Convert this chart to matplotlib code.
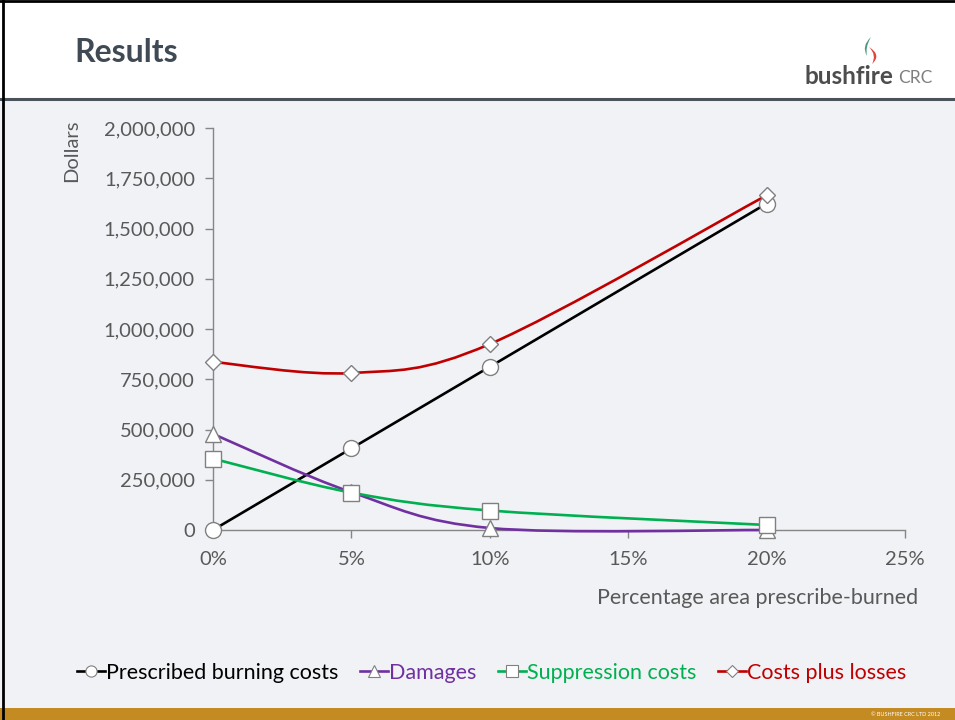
import numpy as np
import matplotlib
matplotlib.use("Agg")
import matplotlib.pyplot as plt
from matplotlib.path import Path
from matplotlib.patches import PathPatch, Rectangle
from matplotlib.lines import Line2D
from matplotlib.ticker import FuncFormatter

plt.rcParams['font.family'] = ['Lato', 'DejaVu Sans']

# data
pct = [0, 5, 10, 20]
burning_costs = [0, 406000, 812000, 1624000]
damages = [478000, 188000, 10000, 0]
suppression = [355000, 186000, 97000, 25000]
costs_plus_losses = [836000, 781000, 925000, 1665000]

series = [
    ("Prescribed burning costs", burning_costs, "#000000", "o", 11.5),
    ("Damages", damages, "#7030a0", "^", 11.5),
    ("Suppression costs", suppression, "#00b050", "s", 11.5),
    ("Costs plus losses", costs_plus_losses, "#c00000", "D", 8.5),
]

bg = "#f0f2f5"
tick_col = "#595959"
axis_col = "#868686"


def smooth_path(xs, ys):
    # Excel-style smoothed line: Catmull-Rom segments as cubic Beziers
    pts = np.column_stack([xs, ys]).astype(float)
    n = len(pts)
    verts = [pts[0]]
    codes = [Path.MOVETO]
    for i in range(n - 1):
        p0 = pts[max(i - 1, 0)]
        p1 = pts[i]
        p2 = pts[i + 1]
        p3 = pts[min(i + 2, n - 1)]
        c1 = p1 + (p2 - p0) / 6.0
        c2 = p2 - (p3 - p1) / 6.0
        verts += [c1, c2, p2]
        codes += [Path.CURVE4] * 3
    return Path(verts, codes)


W, H = 955.0, 720.0


def px_path(pts):
    # pixel coords (top-left origin) -> figure fraction, quadratic curve pieces
    verts = [(x / W, 1 - y / H) for x, y in pts]
    codes = [Path.MOVETO] + [Path.CURVE3] * (len(pts) - 1)
    return Path(verts, codes)


fig = plt.figure(figsize=(9.55, 7.2), dpi=100)
fig.patch.set_facecolor(bg)

# white header + separator
fig.patches.append(Rectangle((0, 1 - 98 / H), 1, 98 / H, transform=fig.transFigure,
                             facecolor="white", edgecolor="none", zorder=0))
fig.add_artist(Line2D([0, 1], [1 - 99 / H, 1 - 99 / H], color="#4a525a", lw=2.2))
fig.add_artist(Line2D([0, 1], [1 - 1 / H, 1 - 1 / H], color="#000000", lw=2))
fig.add_artist(Line2D([3 / W, 3 / W], [0, 1], color="#000000", lw=2))
# gold footer
fig.patches.append(Rectangle((0, 0), 1, 12 / H, transform=fig.transFigure,
                             facecolor="#c38b22", edgecolor="none", zorder=0))
fig.text(940 / W, 6 / H, "\u00a9 BUSHFIRE CRC LTD 2012", color="white", fontsize=4,
         ha="right", va="center")

fig.text(74 / W, 1 - 52 / H, "Results", fontsize=23, fontweight="bold",
         color="#404a55", ha="left", va="center")
fig.text(805 / W, 1 - 76 / H, "bushfire", fontsize=17.5, fontweight="bold",
         color="#4d4d4d", ha="left", va="center")
fig.text(898 / W, 1 - 78 / H, "CRC", fontsize=12.5, color="#7f7f7f",
         ha="left", va="center")
# flame in the logo
flame_g = px_path([(871, 37), (861, 46), (867, 56), (865, 47), (871, 37)])
fig.add_artist(PathPatch(flame_g, facecolor="#4a9a80", edgecolor="none",
                         transform=fig.transFigure))
flame_r = px_path([(869, 47), (882, 55), (872, 64), (877, 55), (869, 47)])
fig.add_artist(PathPatch(flame_r, facecolor="#e0453a", edgecolor="none",
                         transform=fig.transFigure))

ax = fig.add_axes([213 / W, 190 / H, 692 / W, 402 / H])
ax.set_facecolor("none")
ax.set_xlim(0, 25)
ax.set_ylim(0, 2000000)
ax.set_xticks([0, 5, 10, 15, 20, 25])
ax.set_yticks(np.arange(0, 2000001, 250000))
ax.xaxis.set_major_formatter(FuncFormatter(lambda v, p: "%d%%" % v))
ax.yaxis.set_major_formatter(FuncFormatter(lambda v, p: "{:,.0f}".format(v)))
for s in ["top", "right"]:
    ax.spines[s].set_visible(False)
for s in ["left", "bottom"]:
    ax.spines[s].set_color(axis_col)
    ax.spines[s].set_linewidth(1)
ax.tick_params(axis="both", colors=axis_col, labelcolor=tick_col, labelsize=14.5,
               length=6, width=1)
ax.tick_params(axis="y", pad=7)
ax.tick_params(axis="x", pad=9)

handles = []
for label, vals, col, mk, ms in series:
    ax.add_patch(PathPatch(smooth_path(pct, vals), facecolor="none", edgecolor=col,
                           lw=1.9, zorder=3, clip_on=False))
    ax.plot(pct, vals, linestyle="none", marker=mk, markersize=ms,
            markerfacecolor="white", markeredgecolor="#808080", markeredgewidth=1,
            zorder=4, clip_on=False)
    handles.append(Line2D([], [], color=col, lw=1.9, marker=mk, markersize=ms * 0.7,
                          markerfacecolor="white", markeredgecolor="#808080",
                          markeredgewidth=0.8, label=label))

fig.text(72 / W, 1 - 120 / H, "Dollars", rotation=90, fontsize=14.5, color=tick_col,
         ha="center", va="top")
fig.text(918 / W, 1 - 598 / H, "Percentage area prescribe-burned", fontsize=15.5,
         color=tick_col, ha="right", va="center")

leg = fig.legend(handles=handles, loc="center", bbox_to_anchor=(492 / W, 1 - 673 / H),
                 ncol=4, frameon=False, fontsize=15.5, handlelength=1.3,
                 handletextpad=0.05, columnspacing=1.0)
for t, (_, _, col, _, _) in zip(leg.get_texts(), series):
    t.set_color(col)

fig.savefig("out.png", dpi=100, facecolor=bg)
